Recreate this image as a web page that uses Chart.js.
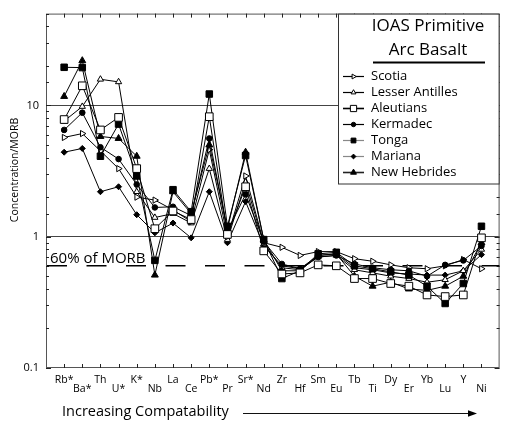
<!DOCTYPE html>
<html>
<head>
<meta charset="utf-8">
<title>IOAS Primitive Arc Basalt</title>
<script src="https://cdn.jsdelivr.net/npm/chart.js@4.4.0/dist/chart.umd.min.js"></script>
<style>
  html, body { margin: 0; padding: 0; background: #fff; }
  #wrap { width: 506px; height: 422px; }
</style>
</head>
<body>
<div id="wrap"><canvas id="c" width="506" height="422"></canvas></div>
<script>
// Elements in order of increasing compatibility
const categories = ['Rb*','Ba*','Th','U*','K*','Nb','La','Ce','Pb*','Pr','Sr*','Nd','Zr','Hf','Sm','Eu','Tb','Ti','Dy','Er','Yb','Lu','Y','Ni'];

// Concentration normalised to MORB, one value per element
const scotia         = [5.7, 6.1, 4.5, 3.3, 2.0, 1.9, 1.6, 1.3, 4.6, 1.0, 2.9, 0.9, 0.83, 0.72, 0.77, 0.77, 0.68, 0.65, 0.61, 0.58, 0.57, 0.6, 0.67, 0.57];
const lesserAntilles = [7.6, 9.8, 15.8, 15.1, 2.2, 1.4, 1.5, 1.27, 3.3, 0.95, 2.6, 0.88, 0.58, 0.56, 0.7, 0.72, 0.56, 0.53, 0.5, 0.48, 0.45, 0.47, 0.55, 0.8];
const aleutians      = [7.8, 14.1, 6.5, 8.1, 3.3, 1.15, 1.57, 1.35, 8.2, 1.04, 2.4, 0.78, 0.52, 0.53, 0.61, 0.6, 0.48, 0.48, 0.44, 0.42, 0.36, 0.35, 0.36, 0.98];
const kermadec       = [6.5, 8.8, 4.8, 3.9, 2.5, 1.67, 1.69, 1.45, 5.6, 1.1, 2.1, 0.92, 0.62, 0.57, 0.7, 0.72, 0.62, 0.58, 0.56, 0.55, 0.5, 0.61, 0.66, 0.85];
const tonga          = [19.5, 19.4, 4.1, 7.2, 2.9, 0.66, 2.28, 1.55, 12.2, 1.2, 4.15, 0.95, 0.48, 0.55, 0.74, 0.76, 0.6, 0.57, 0.54, 0.51, 0.42, 0.31, 0.44, 1.2];
const mariana        = [4.4, 4.7, 2.2, 2.4, 1.47, 1.07, 1.27, 0.98, 2.2, 0.9, 1.85, 0.85, 0.6, 0.57, 0.72, 0.74, 0.58, 0.56, 0.53, 0.52, 0.51, 0.51, 0.55, 0.73];
const newHebrides    = [11.7, 21.9, 5.8, 5.6, 4.1, 0.51, 2.2, 1.5, 5.0, 1.15, 4.4, 0.95, 0.55, 0.55, 0.72, 0.74, 0.5, 0.42, 0.45, 0.4, 0.39, 0.42, 0.5, 0.9];

// Labelled y ticks and the reference level
const yTickLabels = [0.1, 1, 10];
const morbLevel = 0.6;

const FONT = "'Open Sans', 'DejaVu Sans', sans-serif";

const toPoints = arr => arr.map((v, i) => ({ x: i, y: v }));

// Marker style of each suite (also used for the key)
const suites = [
  { label: 'Scotia',          data: scotia,         pointStyle: 'triangle', rotation: 90, radius: 3.6, fill: '#fff', keyRadius: 2.8, keyLine: '#000' },
  { label: 'Lesser Antilles', data: lesserAntilles, pointStyle: 'triangle', rotation: 0,  radius: 3.6, fill: '#fff', keyRadius: 2.8, keyLine: '#000' },
  { label: 'Aleutians',       data: aleutians,      pointStyle: 'rect',     rotation: 0,  radius: 5.4, fill: '#fff', keyRadius: 4.4, keyLine: '#000' },
  { label: 'Kermadec',        data: kermadec,       pointStyle: 'circle',   rotation: 0,  radius: 2.8, fill: '#000', keyRadius: 2.2, keyLine: '#000' },
  { label: 'Tonga',           data: tonga,          pointStyle: 'rect',     rotation: 0,  radius: 4.6, fill: '#000', keyRadius: 3.4, keyLine: '#888' },
  { label: 'Mariana',         data: mariana,        pointStyle: 'rectRot',  rotation: 0,  radius: 3.0, fill: '#000', keyRadius: 2.4, keyLine: '#888' },
  { label: 'New Hebrides',    data: newHebrides,    pointStyle: 'triangle', rotation: 0,  radius: 4.0, fill: '#000', keyRadius: 3.4, keyLine: '#222' }
];

// Draw order: open squares on top, then the rest
const drawOrder = { 'Aleutians': 0, 'Tonga': 1, 'New Hebrides': 2, 'Kermadec': 3, 'Scotia': 4, 'Lesser Antilles': 5, 'Mariana': 6 };

const datasets = suites.map(s => ({
  label: s.label,
  data: toPoints(s.data),
  order: drawOrder[s.label],
  borderColor: '#000',
  borderWidth: 1,
  pointStyle: s.pointStyle,
  rotation: s.rotation,
  pointRadius: s.radius,
  pointBackgroundColor: s.fill,
  pointBorderColor: '#000',
  pointBorderWidth: 1,
  tension: 0
}));

// 60% of MORB reference line across the full width
datasets.push({
  label: '60% of MORB',
  data: [{ x: -1, y: morbLevel }, { x: categories.length, y: morbLevel }],
  order: 10,
  borderColor: '#000',
  borderWidth: 1.6,
  borderDash: [20, 19.5],
  borderDashOffset: -1,
  pointRadius: 0
});

function drawMarker(ctx, style, radius, rotation, x, y) {
  if (Chart.helpers && Chart.helpers.drawPoint) {
    Chart.helpers.drawPoint(ctx, { pointStyle: style, radius: radius, rotation: rotation, borderWidth: 1 }, x, y);
    return;
  }
  ctx.beginPath();
  ctx.arc(x, y, radius, 0, Math.PI * 2);
  ctx.fill(); ctx.stroke();
}

// Frame with inward tick marks on all four sides
const framePlugin = {
  id: 'frame',
  beforeDatasetsDraw(chart) {
    const { ctx, chartArea: a, scales: { x, y } } = chart;
    ctx.save();
    ctx.lineWidth = 1;
    ctx.strokeStyle = '#555';
    ctx.strokeRect(a.left + 0.5, a.top + 0.5, a.right - a.left - 1, a.bottom - a.top - 1);
    ctx.strokeStyle = '#222';
    ctx.beginPath();
    x.ticks.forEach(t => {
      const px = Math.round(x.getPixelForValue(t.value)) + 0.5;
      ctx.moveTo(px, a.top); ctx.lineTo(px, a.top + 4);
      ctx.moveTo(px, a.bottom); ctx.lineTo(px, a.bottom - 4);
    });
    y.ticks.forEach(t => {
      const py = Math.round(y.getPixelForValue(t.value)) + 0.5;
      const len = yTickLabels.includes(t.value) ? 5 : 3;
      ctx.moveTo(a.left, py); ctx.lineTo(a.left + len, py);
      ctx.moveTo(a.right, py); ctx.lineTo(a.right - len, py);
    });
    ctx.stroke();

    // label of the reference line
    ctx.fillStyle = '#000';
    ctx.font = "15px " + FONT;
    ctx.textBaseline = 'alphabetic';
    ctx.textAlign = 'left';
    ctx.fillText('60% of MORB', a.left + 4, y.getPixelForValue(morbLevel) - 3);
    ctx.restore();
  },
  afterDraw(chart) {
    const { ctx, chartArea: a } = chart;
    ctx.save();
    // axis titles
    ctx.fillStyle = '#000';
    ctx.font = "14.5px " + FONT;
    ctx.textAlign = 'left';
    ctx.textBaseline = 'middle';
    ctx.fillText('Increasing Compatability', 62, 412);
    // arrow
    ctx.strokeStyle = '#111';
    ctx.lineWidth = 1.2;
    ctx.beginPath();
    ctx.moveTo(243, 413.5); ctx.lineTo(470, 413.5);
    ctx.stroke();
    ctx.beginPath();
    ctx.moveTo(477, 413.5); ctx.lineTo(468, 410.3); ctx.lineTo(468, 416.7); ctx.closePath();
    ctx.fill();

    ctx.translate(15, 170);
    ctx.rotate(-Math.PI / 2);
    ctx.textAlign = 'center';
    ctx.font = "10.5px " + FONT;
    ctx.fillText('Concentration/MORB', 0, 0);
    ctx.restore();

    // key box
    ctx.save();
    const bx = 338.5, by = a.top + 0.5, bw = a.right - 0.5 - bx, bh = 184 - by;
    ctx.fillStyle = '#fff';
    ctx.fillRect(bx, by, bw, bh);
    ctx.strokeStyle = '#333';
    ctx.lineWidth = 1;
    ctx.strokeRect(bx, by, bw, bh);
    ctx.fillStyle = '#000';
    ctx.textAlign = 'center';
    ctx.textBaseline = 'middle';
    ctx.font = "17px " + FONT;
    ctx.fillText('IOAS Primitive', 428, 26);
    ctx.fillText('Arc Basalt', 428, 50);
    ctx.lineWidth = 2;
    ctx.strokeStyle = '#000';
    ctx.beginPath(); ctx.moveTo(373, 62.5); ctx.lineTo(485, 62.5); ctx.stroke();

    ctx.textAlign = 'left';
    ctx.font = "13px " + FONT;
    suites.forEach((s, i) => {
      const yy = 76 + i * 16;
      ctx.strokeStyle = s.keyLine;
      ctx.lineWidth = s.label === 'Aleutians' || s.label === 'New Hebrides' ? 1.6 : 1.2;
      ctx.beginPath(); ctx.moveTo(343, yy + 0.5); ctx.lineTo(364, yy + 0.5); ctx.stroke();
      ctx.strokeStyle = '#000';
      ctx.lineWidth = 1;
      ctx.fillStyle = s.fill;
      drawMarker(ctx, s.pointStyle, s.keyRadius, s.rotation, 353.5, yy + 0.5);
      ctx.fillStyle = '#000';
      ctx.fillText(s.label, 371, yy);
    });
    ctx.restore();
  }
};

new Chart(document.getElementById('c'), {
  type: 'line',
  data: { datasets },
  options: {
    responsive: false,
    animation: false,
    devicePixelRatio: 1,
    layout: { padding: { top: 7, right: 3.5, left: 0, bottom: 0 } },
    plugins: { legend: { display: false }, tooltip: { enabled: false } },
    scales: {
      x: {
        type: 'linear',
        min: -1,
        max: categories.length,
        afterBuildTicks: scale => { scale.ticks = categories.map((c, i) => ({ value: i })); },
        afterFit: scale => { scale.height = 54; },
        grid: { display: false, drawTicks: false },
        border: { display: false },
        ticks: {
          autoSkip: false,
          maxRotation: 0,
          padding: 8,
          color: '#000',
          font: { family: FONT, size: 10.5, lineHeight: '9px' },
          callback: v => (v % 2 ? ['', categories[v]] : categories[v])
        }
      },
      y: {
        type: 'logarithmic',
        min: 0.1,
        max: 50,
        afterFit: scale => { scale.width = 46; },
        grid: {
          drawTicks: false,
          lineWidth: 1,
          color: c => (c.tick && (c.tick.value === 1 || c.tick.value === 10) ? '#444' : 'rgba(0,0,0,0)')
        },
        border: { display: false },
        ticks: {
          autoSkip: false,
          padding: 7,
          color: '#000',
          font: { family: FONT, size: 11 },
          callback: v => (yTickLabels.includes(v) ? String(v) : '')
        }
      }
    }
  },
  plugins: [framePlugin]
});
</script>
</body>
</html>
